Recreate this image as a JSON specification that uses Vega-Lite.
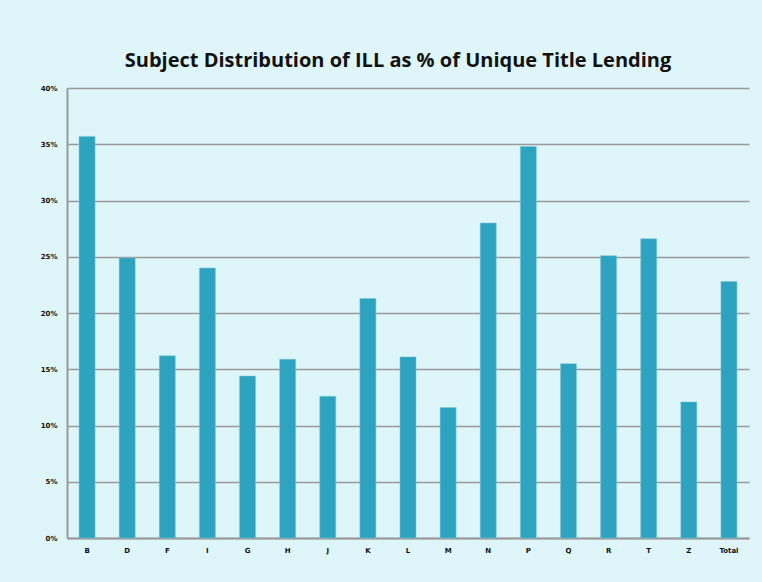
{
  "$schema": "https://vega.github.io/schema/vega-lite/v6.json",
  "autosize": {"type": "none"},
  "width": 682,
  "height": 450,
  "padding": {"left": 67, "top": 88, "right": 13, "bottom": 44},
  "background": "#DEF5F9",
  "title": {
    "text": "Subject Distribution of ILL as % of Unique Title Lending",
    "fontSize": 20,
    "font": "Open Sans",
    "fontWeight": "bold",
    "color": "#111111",
    "anchor": "middle",
    "frame": "group",
    "dx": -10,
    "offset": 13
  },
  "config": {
    "view": {"stroke": null},
    "axis": {"labelFont": "DejaVu Sans", "labelFontSize": 7, "labelFontWeight": "bold", "labelColor": "#111111"}
  },
  "data": {
    "values": [
      {"subject": "B", "pct": 0.357},
      {"subject": "D", "pct": 0.249},
      {"subject": "F", "pct": 0.162},
      {"subject": "I", "pct": 0.240},
      {"subject": "G", "pct": 0.144},
      {"subject": "H", "pct": 0.159},
      {"subject": "J", "pct": 0.126},
      {"subject": "K", "pct": 0.213},
      {"subject": "L", "pct": 0.161},
      {"subject": "M", "pct": 0.116},
      {"subject": "N", "pct": 0.280},
      {"subject": "P", "pct": 0.348},
      {"subject": "Q", "pct": 0.155},
      {"subject": "R", "pct": 0.251},
      {"subject": "T", "pct": 0.266},
      {"subject": "Z", "pct": 0.121},
      {"subject": "Total", "pct": 0.228}
    ]
  },
  "mark": {"type": "bar", "color": "#2EA3BF", "stroke": "#7FCBDB", "strokeWidth": 0.5},
  "encoding": {
    "x": {
      "field": "subject",
      "type": "nominal",
      "sort": null,
      "title": null,
      "scale": {"paddingInner": 0.6, "paddingOuter": 0.3},
      "axis": {"labelAngle": 0, "domainColor": "#9A9A9A", "domainWidth": 2, "ticks": false, "labelPadding": 8}
    },
    "y": {
      "field": "pct",
      "type": "quantitative",
      "title": null,
      "scale": {"domain": [0, 0.4], "nice": false},
      "axis": {
        "format": ".0%",
        "values": [0, 0.05, 0.1, 0.15, 0.2, 0.25, 0.3, 0.35, 0.4],
        "gridColor": "#9A9A9A",
        "gridWidth": 1.5,
        "domainColor": "#9A9A9A",
        "domainWidth": 2,
        "ticks": false,
        "labelPadding": 10
      }
    }
  }
}
